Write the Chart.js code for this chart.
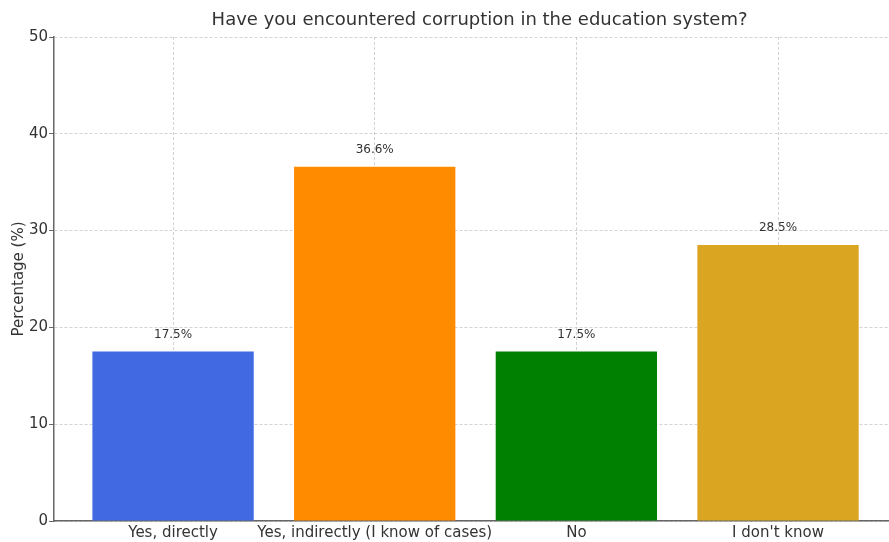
<!DOCTYPE html>
<html>
<head>
<meta charset="utf-8">
<script src="https://cdn.jsdelivr.net/npm/chart.js@4/dist/chart.umd.min.js"></script>
<style>
  html, body { margin: 0; padding: 0; background: #ffffff; overflow: hidden; }
  #wrap { position: relative; width: 897px; height: 542px; }
</style>
</head>
<body>
<div id="wrap"><canvas id="surveyChart"></canvas></div>
<script>
// data
const chart_title = 'Have you encountered corruption in the education system?'
const categories = ['Yes, directly', 'Yes, indirectly (I know of cases)', 'No', "I don't know"]
const percentages = [17.5, 36.6, 17.5, 28.5]
const bar_colors = ['#4169E1', '#FF8C00', '#008000', '#DAA520']
const y_ticks = [0, 10, 20, 30, 40, 50]

const font_family = '"DejaVu Sans", sans-serif'

// value labels above bars + title over the plot area
const labelPlugin = {
  id: 'labelPlugin',
  afterDatasetsDraw(chart) {
    const ctx = chart.ctx
    const x = chart.scales.x
    const y = chart.scales.y
    ctx.save()
    ctx.fillStyle = '#333333'
    ctx.font = `12px ${font_family}`
    ctx.textAlign = 'center'
    ctx.textBaseline = 'middle'
    percentages.forEach((v, i) => {
      ctx.fillText(v.toFixed(1) + '%', x.getPixelForValue(i), y.getPixelForValue(v) - 17)
    })
    ctx.font = `18px ${font_family}`
    ctx.fillStyle = '#333333'
    const area = chart.chartArea
    ctx.fillText(chart_title, (area.left + area.right) / 2 + 4, 20)
    ctx.restore()
  }
}

const ctx = document.getElementById('surveyChart').getContext('2d')

const surveyChart = new Chart(ctx, {
  type: 'bar',
  data: {
    datasets: [{
      data: percentages.map((v, i) => ({ x: i, y: v })),
      backgroundColor: bar_colors,
      borderWidth: 0,
      barPercentage: 0.8,
      categoryPercentage: 1
    }]
  },
  options: {
    responsive: true,
    maintainAspectRatio: false,
    animation: false,
    layout: {
      padding: { top: 37, right: 0, bottom: -3, left: 10 }
    },
    plugins: {
      legend: { display: false },
      tooltip: { enabled: false },
      title: { display: false }
    },
    scales: {
      x: {
        type: 'linear',
        min: -0.59,
        max: 3.59,
        offset: false,
        z: 1,
        afterBuildTicks: (scale) => {
          scale.ticks = categories.map((c, i) => ({ value: i }))
        },
        ticks: {
          color: '#333333',
          font: { family: font_family, size: 15 },
          padding: 3,
          maxRotation: 0,
          autoSkip: false,
          callback: (value) => categories[value]
        },
        grid: {
          offset: false,
          color: 'rgba(175, 175, 175, 0.55)',
          tickLength: 0,
          drawTicks: false
        },
        border: {
          display: true,
          color: '#666666',
          width: 1.5,
          dash: [3, 2]
        }
      },
      y: {
        min: 0,
        max: 50,
        z: 1,
        afterBuildTicks: (scale) => {
          scale.ticks = y_ticks.map(v => ({ value: v }))
        },
        ticks: {
          color: '#333333',
          font: { family: font_family, size: 15 },
          padding: 1
        },
        grid: {
          color: 'rgba(175, 175, 175, 0.55)',
          tickColor: '#666666',
          tickLength: 5
        },
        border: {
          display: true,
          color: '#666666',
          width: 1.5,
          dash: [3, 2]
        },
        title: {
          display: true,
          text: 'Percentage (%)',
          color: '#333333',
          font: { family: font_family, size: 15 },
          padding: { top: 0, bottom: 0 }
        }
      }
    }
  },
  plugins: [labelPlugin]
})
</script>
</body>
</html>
